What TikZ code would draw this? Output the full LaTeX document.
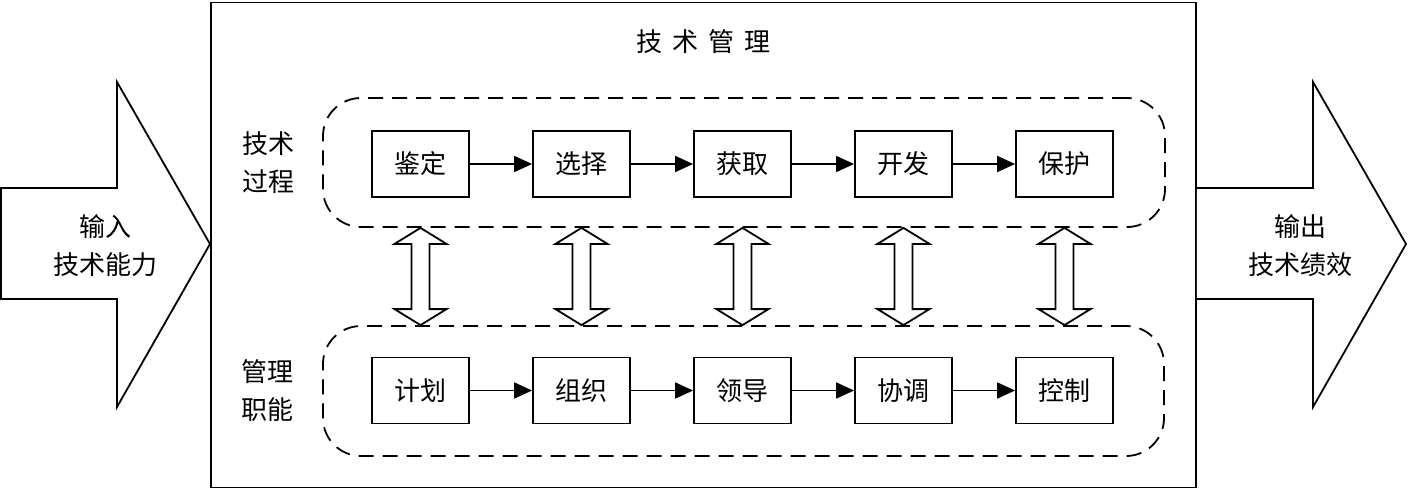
\documentclass[tikz,border=0pt]{standalone}
\usepackage{fontspec}
\setmainfont{Noto Sans CJK SC}
\usetikzlibrary{arrows.meta,calc}
\begin{document}
\begin{tikzpicture}[x=1pt,y=-1pt,
  every node/.style={font=\fontsize{26pt}{38pt}\selectfont},
  frame/.style={draw,line width=1.8pt},
  procbox/.style={draw,line width=1.8pt,minimum width=97pt,minimum height=66pt,inner sep=0pt},
  group/.style={draw,line width=1.8pt,dash pattern=on 15pt off 9pt,rounded corners=38pt,inner sep=0pt},
  flow/.style={line width=1.8pt,-{Triangle[length=18pt,width=16pt]}},
  bigarrow/.style={draw,line width=1.8pt,fill=white,line join=miter},
  dblarrow/.style={draw,line width=1.8pt,fill=white},
  lbl/.style={align=center,inner sep=0pt}
]
\useasboundingbox (0,0) rectangle (1408,490);
% main frame
\node[frame,minimum width=985pt,minimum height=485pt,inner sep=0pt] (main) at (703.5,245) {};
\node[lbl] (title) at (703.5,42) {技\hspace{10pt}术\hspace{10pt}管\hspace{10pt}理};
% input / output arrows
\draw[bigarrow] (1,188) -- (117,188) -- (117,82) -- (210,244) -- (117,407) -- (117,299) -- (1,299) -- cycle;
\node[lbl] (in) at (105,246) {输入\\技术能力};
\draw[bigarrow] (main.east |- 0,188) -- (1313,188) -- (1313,82) -- (1406,244) -- (1313,407) -- (1313,299) -- (main.east |- 0,299);
\node[lbl] (out) at (1300,246) {输出\\技术绩效};
% groups
\node[group,minimum width=842pt,minimum height=129pt] (g1) at (744,162.5) {};
\node[group,minimum width=841pt,minimum height=130pt] (g2) at (743.5,391) {};
\node[lbl] (l1) at (268,163) {技术\\过程};
\node[lbl] (l2) at (267,391) {管理\\职能};
% boxes
\foreach \i/\t/\b in {1/鉴定/计划,2/选择/组织,3/获取/领导,4/开发/协调,5/保护/控制}{
  \node[procbox] (a\i) at ({420.5+161*(\i-1)},164) {\t};
  \node[procbox] (b\i) at ({420.5+161*(\i-1)},390.5) {\b};
}
\foreach \i [evaluate=\i as \j using int(\i+1)] in {1,...,4}{
  \draw[flow] (a\i.east) -- (a\j.west);
  \draw[flow] (b\i.east) -- (b\j.west);
}
% double arrows
\foreach \i in {1,...,5}{
  \path (a\i.center |- g1.south) coordinate (t\i);
  \path (b\i.center |- g2.north) coordinate (u\i);
  \draw[dblarrow] (t\i) -- ++(26,16) -- ++(-17,0) |- ($(u\i)+(9,-16)$) -- ++(17,0) -- (u\i)
     -- ++(-26,-16) -- ++(17,0) |- ($(t\i)+(-9,16)$) -- ++(-17,0) -- cycle;
}
\end{tikzpicture}
\end{document}
